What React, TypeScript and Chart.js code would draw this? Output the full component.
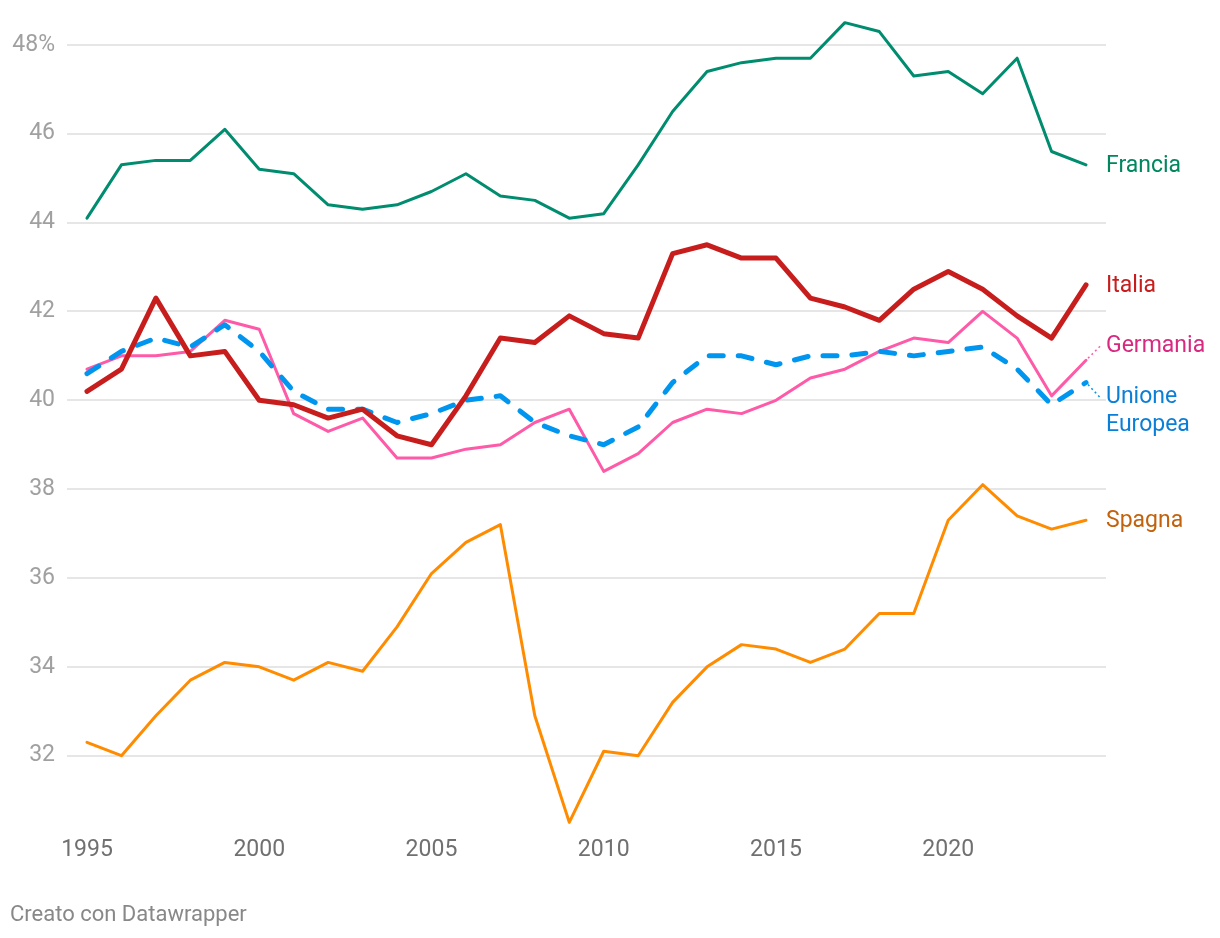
import React, { useEffect, useRef } from "react";
import { Chart, registerables } from "chart.js";

Chart.register(...registerables);

const years = [
  1995, 1996, 1997, 1998, 1999, 2000, 2001, 2002, 2003, 2004,
  2005, 2006, 2007, 2008, 2009, 2010, 2011, 2012, 2013, 2014,
  2015, 2016, 2017, 2018, 2019, 2020, 2021, 2022, 2023, 2024,
];

const francia = [
  44.1, 45.3, 45.4, 45.4, 46.1, 45.2, 45.1, 44.4, 44.3, 44.4,
  44.7, 45.1, 44.6, 44.5, 44.1, 44.2, 45.3, 46.5, 47.4, 47.6,
  47.7, 47.7, 48.5, 48.3, 47.3, 47.4, 46.9, 47.7, 45.6, 45.3,
];

const italia = [
  40.2, 40.7, 42.3, 41.0, 41.1, 40.0, 39.9, 39.6, 39.8, 39.2,
  39.0, 40.1, 41.4, 41.3, 41.9, 41.5, 41.4, 43.3, 43.5, 43.2,
  43.2, 42.3, 42.1, 41.8, 42.5, 42.9, 42.5, 41.9, 41.4, 42.6,
];

const germania = [
  40.7, 41.0, 41.0, 41.1, 41.8, 41.6, 39.7, 39.3, 39.6, 38.7,
  38.7, 38.9, 39.0, 39.5, 39.8, 38.4, 38.8, 39.5, 39.8, 39.7,
  40.0, 40.5, 40.7, 41.1, 41.4, 41.3, 42.0, 41.4, 40.1, 40.9,
];

const unioneEuropea = [
  40.6, 41.1, 41.4, 41.2, 41.7, 41.1, 40.2, 39.8, 39.8, 39.5,
  39.7, 40.0, 40.1, 39.5, 39.2, 39.0, 39.4, 40.4, 41.0, 41.0,
  40.8, 41.0, 41.0, 41.1, 41.0, 41.1, 41.2, 40.7, 39.9, 40.4,
];

const spagna = [
  32.3, 32.0, 32.9, 33.7, 34.1, 34.0, 33.7, 34.1, 33.9, 34.9,
  36.1, 36.8, 37.2, 32.9, 30.5, 32.1, 32.0, 33.2, 34.0, 34.5,
  34.4, 34.1, 34.4, 35.2, 35.2, 37.3, 38.1, 37.4, 37.1, 37.3,
];

const yTicks = [32, 34, 36, 38, 40, 42, 44, 46, 48];
const xTicks = [1995, 2000, 2005, 2010, 2015, 2020];

const FONT = "Roboto, 'Noto Sans', sans-serif";

const toPoints = (vals: number[]) => years.map((x, i) => ({ x, y: vals[i] }));

export default function App() {
  const ref = useRef<HTMLCanvasElement>(null);

  useEffect(() => {
    document.body.style.margin = "0";
    const canvas = ref.current;
    if (!canvas) return;

    const labels = [
      { lines: ["Francia"], color: "#00875f", series: francia, dy: 1 },
      { lines: ["Italia"], color: "#c71e1d", series: italia, dy: 1 },
      { lines: ["Germania"], color: "#d8287f", series: germania, dy: -14, connector: "#ff5aa8" },
      { lines: ["Unione", "Europea"], color: "#0a7fd8", series: unioneEuropea, dy: 15, connector: "#0096f0" },
      { lines: ["Spagna"], color: "#c2620d", series: spagna, dy: 1 },
    ];

    const endLabels = {
      id: "endLabels",
      afterDatasetsDraw(chart: any) {
        const ctx = chart.ctx as CanvasRenderingContext2D;
        const xs = chart.scales.x;
        const ys = chart.scales.y;
        const lastX = years[years.length - 1];
        const px = xs.getPixelForValue(lastX);
        const textX = chart.chartArea.right;
        ctx.save();
        ctx.font = `23px ${FONT}`;
        ctx.textBaseline = "middle";
        ctx.textAlign = "left";
        labels.forEach((l) => {
          const py = ys.getPixelForValue(l.series[l.series.length - 1]);
          const ly = py + l.dy;
          if (l.connector) {
            ctx.save();
            ctx.strokeStyle = l.connector;
            ctx.lineWidth = 1.5;
            ctx.setLineDash([2, 3]);
            ctx.beginPath();
            ctx.moveTo(px + 2, py + (l.dy < 0 ? -2 : 2));
            ctx.lineTo(textX - 6, ly);
            ctx.stroke();
            ctx.restore();
          }
          ctx.fillStyle = l.color;
          l.lines.forEach((t, i) => ctx.fillText(t, textX, ly + i * 28));
        });
        ctx.restore();
      },
    };

    const base = {
      pointRadius: 0,
      pointHoverRadius: 0,
      borderJoinStyle: "round" as const,
      borderCapStyle: "round" as const,
      tension: 0,
      fill: false,
    };

    const chart = new Chart(canvas, {
      type: "line",
      data: {
        datasets: [
          { ...base, label: "Italia", data: toPoints(italia), borderColor: "#c71e1d", borderWidth: 5 },
          { ...base, label: "Unione Europea", data: toPoints(unioneEuropea), borderColor: "#0096f0", borderWidth: 5, borderDash: [14, 15] },
          { ...base, label: "Germania", data: toPoints(germania), borderColor: "#ff5aa8", borderWidth: 3 },
          { ...base, label: "Francia", data: toPoints(francia), borderColor: "#008c6e", borderWidth: 3 },
          { ...base, label: "Spagna", data: toPoints(spagna), borderColor: "#ff8c00", borderWidth: 3 },
        ],
      },
      options: {
        responsive: false,
        animation: false,
        layout: { padding: { left: 0, right: 114, top: 16, bottom: 71 } },
        plugins: {
          legend: { display: false },
          tooltip: { enabled: false },
        },
        scales: {
          x: {
            type: "linear",
            min: 1994.42,
            max: 2024.58,
            grid: { display: false, drawTicks: false },
            border: { display: false },
            afterBuildTicks: (scale: any) => {
              scale.ticks = xTicks.map((v) => ({ value: v }));
            },
            afterFit: (scale: any) => {
              scale.height = 40;
              scale.paddingLeft = 0;
              scale.paddingRight = 0;
              scale.paddingTop = 0;
              scale.paddingBottom = 0;
            },
            ticks: {
              color: "#707070",
              font: { family: FONT, size: 23 },
              padding: 9,
              maxRotation: 0,
              autoSkip: false,
              callback: (v: any) => String(v),
            },
          },
          y: {
            type: "linear",
            min: 30.395,
            max: 48.65,
            grid: { color: "#e6e6e6", lineWidth: 2, drawTicks: false },
            border: { display: false },
            afterBuildTicks: (scale: any) => {
              scale.ticks = yTicks.map((v) => ({ value: v }));
            },
            afterFit: (scale: any) => {
              scale.width = 67;
              scale.paddingLeft = 0;
              scale.paddingRight = 0;
              scale.paddingTop = 0;
              scale.paddingBottom = 0;
            },
            ticks: {
              color: "#a0a0a0",
              font: { family: FONT, size: 23 },
              padding: 12,
              autoSkip: false,
              callback: (v: any) => (v === 48 ? "48%" : String(v)),
            },
          },
        },
      },
      plugins: [endLabels],
    });

    return () => chart.destroy();
  }, []);

  return (
    <div style={{ position: "relative", width: 1220, height: 938, fontFamily: FONT }}>
      <canvas ref={ref} width={1220} height={938} style={{ display: "block" }} />
      <div
        style={{
          position: "absolute",
          left: 10,
          top: 901,
          fontSize: 22,
          lineHeight: "26px",
          color: "#888888",
        }}
      >
        Creato con Datawrapper
      </div>
    </div>
  );
}
